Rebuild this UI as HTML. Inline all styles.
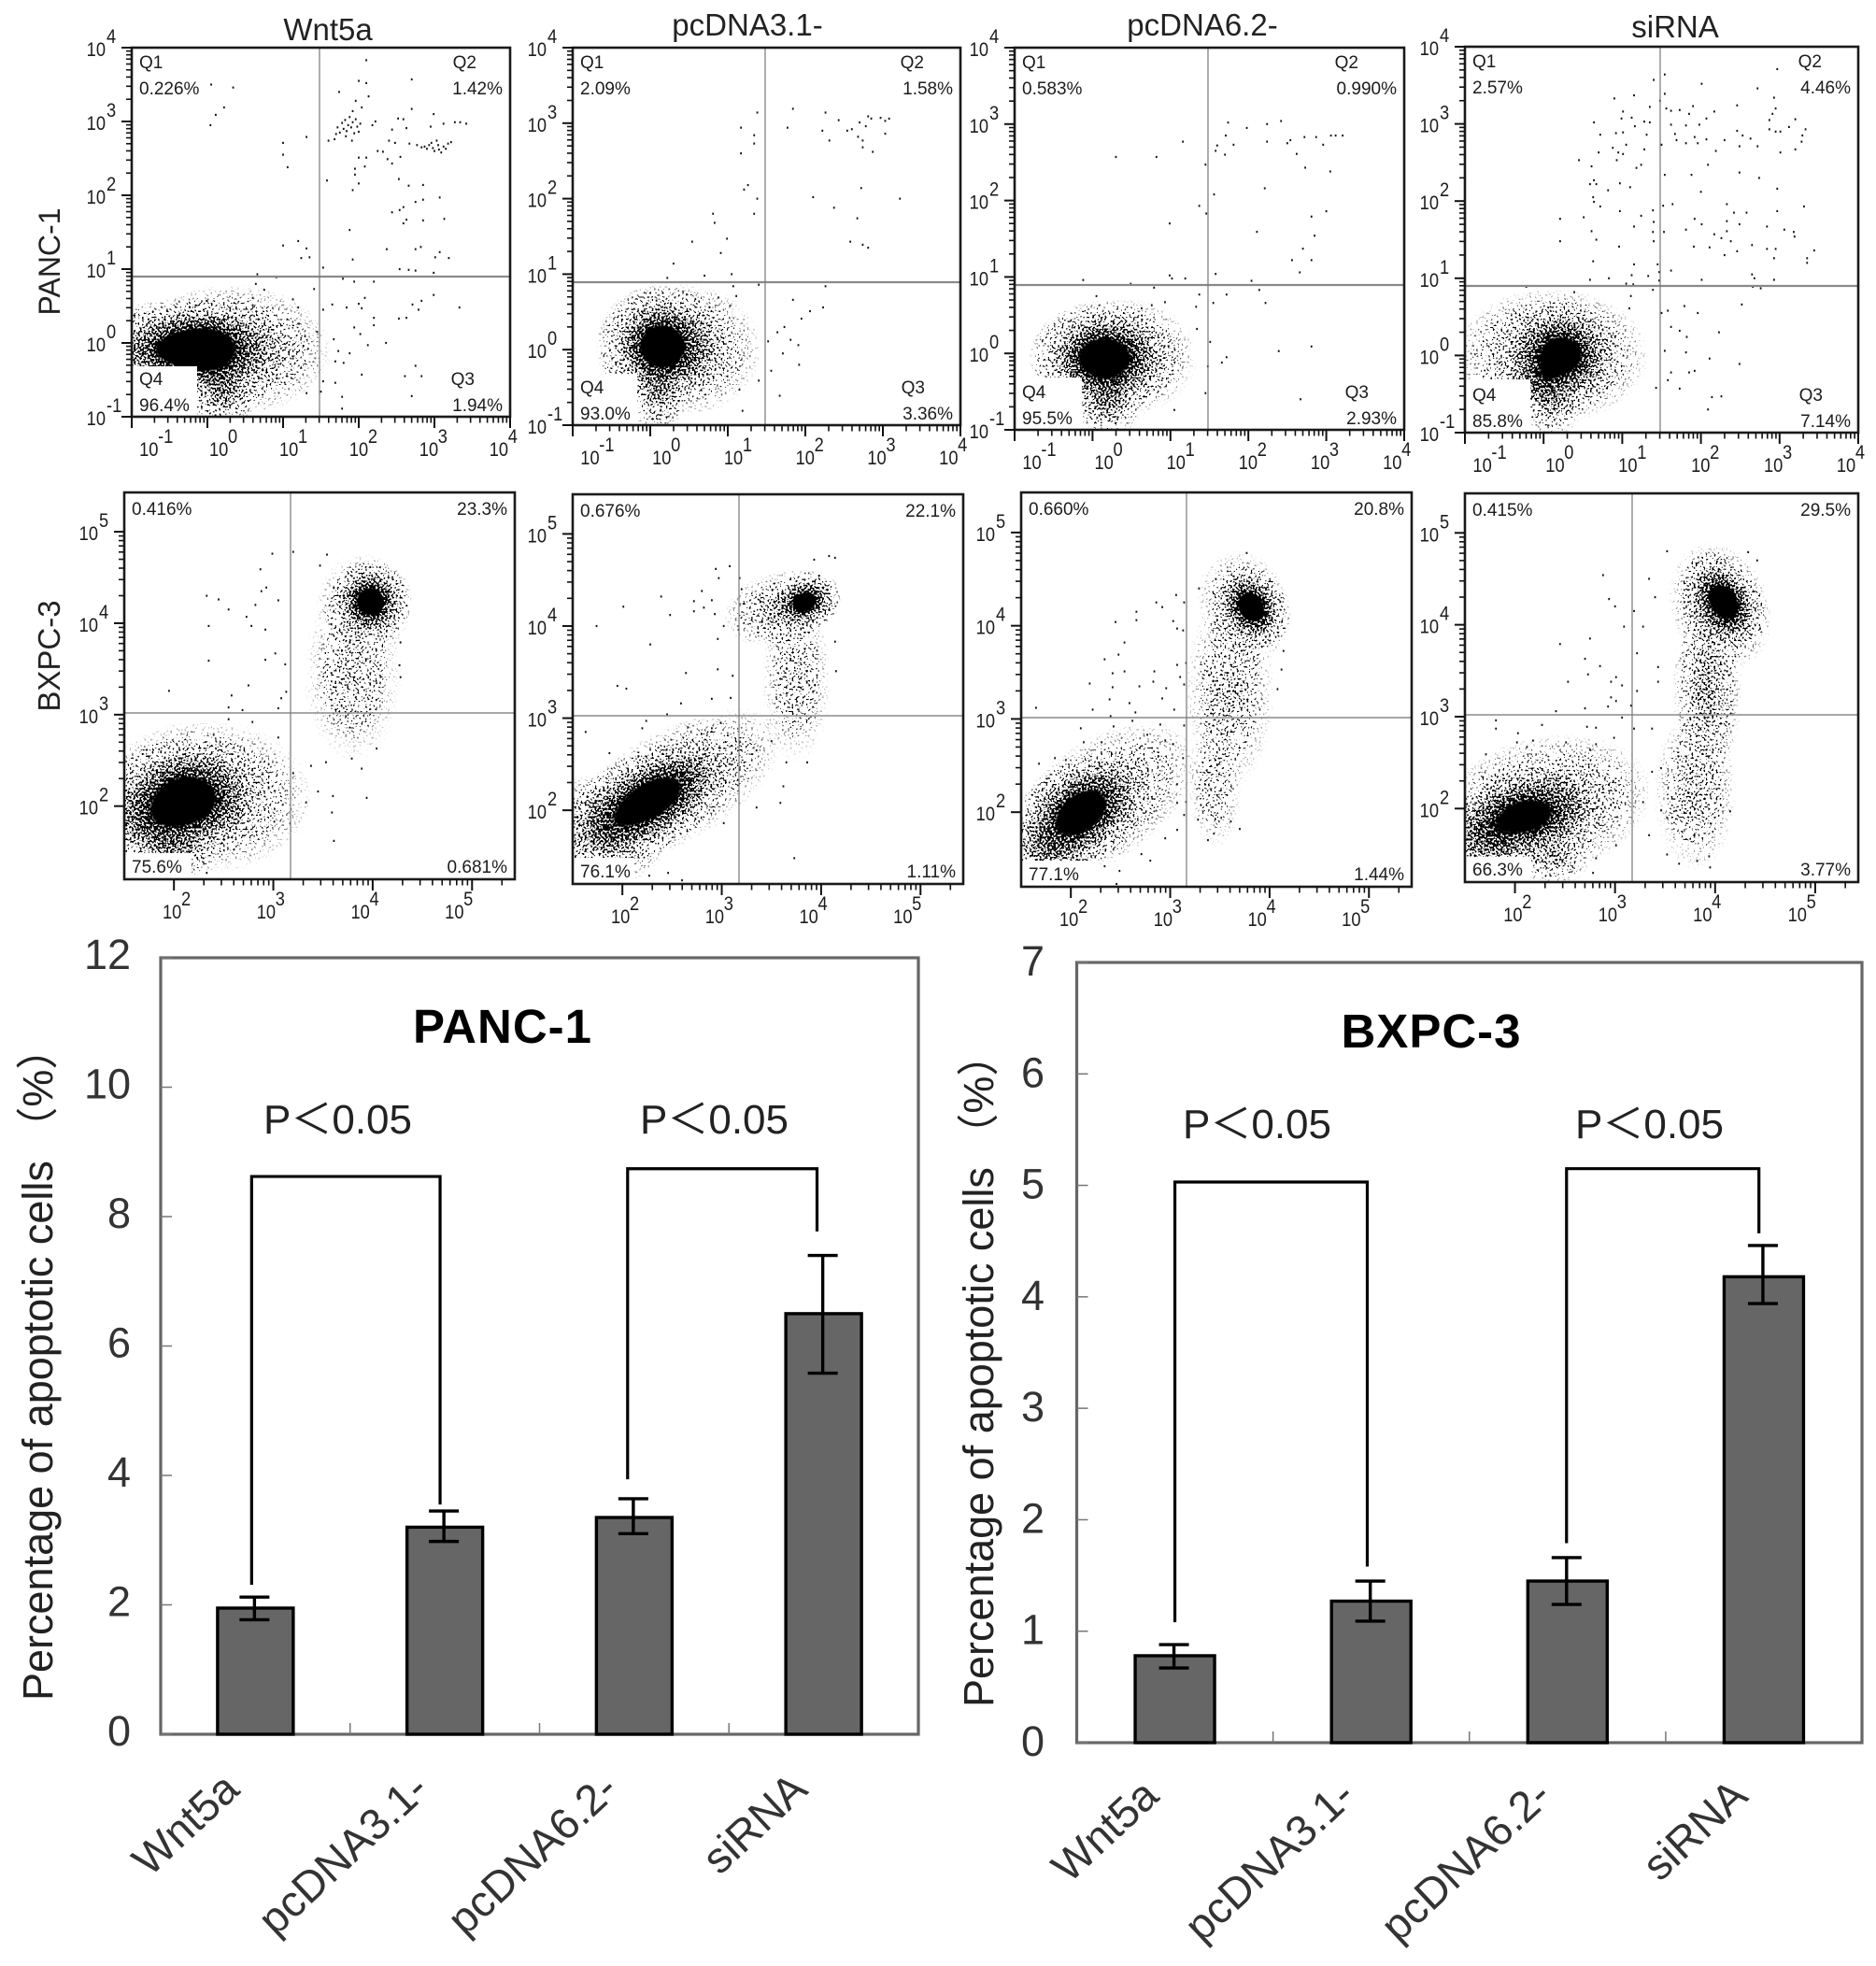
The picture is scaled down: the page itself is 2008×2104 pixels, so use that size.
<!DOCTYPE html>
<html lang="en">
<head>
<meta charset="utf-8">
<title>Apoptosis flow cytometry and bar charts</title>
<style>
html,body{margin:0;padding:0;background:#fff;}
svg{display:block;}
text{font-family:"Liberation Sans","Noto Sans CJK SC",sans-serif;}
</style>
</head>
<body>
<svg id="figure" xmlns="http://www.w3.org/2000/svg" width="2008" height="2104" viewBox="0 0 2008 2104">
<defs>
<radialGradient id="coreFade">
<stop offset="0" stop-color="#000" stop-opacity="1"/>
<stop offset="0.25" stop-color="#000" stop-opacity="0.78"/>
<stop offset="0.5" stop-color="#000" stop-opacity="0.38"/>
<stop offset="0.75" stop-color="#000" stop-opacity="0.1"/>
<stop offset="1" stop-color="#000" stop-opacity="0"/>
</radialGradient>
<filter id="stipple" color-interpolation-filters="sRGB">
<feTurbulence type="fractalNoise" baseFrequency="0.46" numOctaves="1" seed="7" result="grain"/>
<feColorMatrix in="grain" type="matrix" values="0 0 0 0 0  0 0 0 0 0  0 0 0 0 0  4.6 0 0 0 -1.95" result="grainAlpha"/>
<feComposite in="SourceAlpha" in2="grainAlpha" operator="arithmetic" k1="0" k2="1.25" k3="1" k4="-1"/>
<feComponentTransfer><feFuncA type="linear" slope="14"/></feComponentTransfer>
</filter>
</defs>
<rect x="0" y="0" width="2008" height="2104" fill="#fff"/>
<text x="351" y="43" font-size="33" text-anchor="middle" fill="#222">Wnt5a</text>
<text x="800" y="38" font-size="33" text-anchor="middle" fill="#222">pcDNA3.1-</text>
<text x="1287" y="38" font-size="33" text-anchor="middle" fill="#222">pcDNA6.2-</text>
<text x="1793" y="40" font-size="33" text-anchor="middle" fill="#222">siRNA</text>
<text transform="translate(64 280) rotate(-90)" font-size="32" text-anchor="middle" fill="#222">PANC-1</text>
<text transform="translate(64 702) rotate(-90)" font-size="33" text-anchor="middle" fill="#222">BXPC-3</text>
</svg>
<script>
/* ---------- Flow cytometry data: [log10 FITC, log10 PI] ---------- */
const rowOneXDecades = [-1, 0, 1, 2, 3, 4];
const rowOneYDecades = [-1, 0, 1, 2, 3, 4];
const rowTwoXDecades = [2, 3, 4, 5];
const rowTwoYDecades = [2, 3, 4, 5];

const pancWnt5aPercents = ["0.226%", "1.42%", "1.94%", "96.4%"];
const pancPcdna31Percents = ["2.09%", "1.58%", "3.36%", "93.0%"];
const pancPcdna62Percents = ["0.583%", "0.990%", "2.93%", "95.5%"];
const pancSirnaPercents = ["2.57%", "4.46%", "7.14%", "85.8%"];
const bxpcWnt5aPercents = ["0.416%", "23.3%", "0.681%", "75.6%"];
const bxpcPcdna31Percents = ["0.676%", "22.1%", "1.11%", "76.1%"];
const bxpcPcdna62Percents = ["0.660%", "20.8%", "1.44%", "77.1%"];
const bxpcSirnaPercents = ["0.415%", "29.5%", "3.77%", "66.3%"];

/* density regions: [log x, log y, spread x, spread y, tilt, density] */
const pancWnt5aDensity = [[.3,-.1,1.35,.9,0,.5],[-.3,-.08,1.45,.68,0,1],[-.15,-.1,.85,.6,0,1],[0,-.08,.6,.5,0,1],[.2,-.65,.45,.55,0,.5]];
const pancPcdna31Density = [[.45,0,1,.88,0,.42],[.14,.05,.85,.82,0,1],[.14,.05,.55,.55,0,1],[.1,-.55,.38,.6,0,.42]];
const pancPcdna62Density = [[.4,-.05,.95,.78,0,.42],[.13,-.06,.95,.75,0,1],[.13,-.06,.65,.52,0,1],[.2,-.6,.45,.55,0,.48]];
const pancSirnaDensity = [[.1,0,1.25,.88,0,.48],[.25,0,.8,.75,0,.9],[.2,0,.5,.5,0,.8],[0,-.3,.42,.42,0,.6],[.1,-.6,.45,.45,0,.38]];
const bxpcWnt5aDensity = [[2.3,2.1,1.1,.85,0,.42],[1.8,1.85,.7,.62,0,.6],[2.11,2.07,.85,.72,-10,1],[2.12,2.06,.55,.48,-10,1],[2,1.5,.45,.32,0,.38],[3.8,3.45,.5,.98,0,.2],[3.9,4.15,.48,.62,0,.28],[3.98,4.24,.42,.45,-35,1],[3.98,4.24,.27,.3,-35,.9]];
const bxpcPcdna31Density = [[2.5,2.25,1.25,.62,-30,.42],[1.85,1.8,.65,.62,0,.58],[2.27,2.11,.95,.55,-30,1],[2.27,2.1,.65,.36,-30,1],[3.75,3.45,.36,.95,0,.2],[3.6,4.2,.6,.4,-15,.38],[3.85,4.27,.36,.32,-20,1],[3.82,4.25,.25,.2,-20,.9]];
const bxpcPcdna62Density = [[2.3,2.12,1.1,.66,-35,.4],[1.8,1.65,.55,.5,0,.52],[2.1,2,.78,.56,-35,1],[2.1,2,.5,.38,-35,1],[3.6,3.3,.46,1.05,0,.23],[3.45,2.3,.28,.7,0,.18],[3.75,4.2,.46,.62,-20,.36],[3.82,4.2,.36,.48,-35,1],[3.82,4.2,.24,.32,-35,.9]];
const bxpcSirnaDensity = [[2.25,2,1.15,.78,-15,.45],[1.75,1.7,.6,.55,0,.62],[2.4,1.45,.36,.28,0,.32],[2.12,1.92,.85,.55,-10,.88],[2.1,1.92,.5,.35,-10,.7],[3.92,3.3,.35,1.02,0,.4],[3.8,2.2,.42,.88,0,.25],[4.05,4.2,.5,.72,-20,.42],[4.08,4.25,.38,.58,-30,1],[4.1,4.25,.24,.4,-35,.9]];

const pancWnt5aEvents = [[.05,3.5],[.34,3.46],[.22,3.19],[.11,3.09],[.04,2.95],[2.1,3.83],[2,3.55],[2.1,3.52],[2.7,3.57],[1.74,3.4],[2.13,3.34],[1.96,3.28],[2.04,3.19],[1.92,3.14],[2.7,3.17],[2.99,3.1],[1.72,2.92],[1.75,2.85],[1.78,2.98],[1.8,2.9],[1.82,3.02],[1.84,2.87],[1.86,2.95],[1.88,3.06],[1.9,2.92],[1.92,2.99],[1.94,2.84],[1.96,3.03],[1.98,2.93],[2,2.86],[1.83,2.8],[1.68,2.76],[1.7,2.83],[1.91,2.74],[2.02,2.97],[1.6,2.74],[2.22,3],[2.18,2.95],[2.52,3.04],[2.59,3.03],[2.44,2.89],[2.63,2.91],[2.95,2.93],[3.12,2.97],[3.27,2.99],[3.34,2.99],[3.42,2.97],[2.77,2.68],[2.83,2.65],[2.87,2.66],[2.9,2.63],[2.93,2.68],[2.96,2.71],[2.98,2.64],[3,2.6],[3.03,2.74],[3.06,2.62],[3.09,2.58],[3.12,2.66],[3.15,2.63],[3.18,2.7],[3.22,2.72],[3.05,2.68],[2.4,2.74],[2.48,2.71],[2.67,2.7],[2.25,2.6],[2.32,2.59],[2,2.51],[2.1,2.51],[2.38,2.49],[2.44,2.43],[2.55,2.52],[2.08,2.39],[1.95,2.36],[1.95,2.28],[2,2.16],[1.92,2.07],[2.53,2.22],[2.66,2.13],[2.85,2.14],[3.07,1.97],[2.85,1.94],[2.75,1.91],[2.59,1.84],[2.54,1.8],[2.44,1.77],[2.63,1.67],[2.59,1.62],[2.85,1.66],[3.13,1.68],[1.88,1.53],[2.82,1.3],[2.75,1.27],[2.37,1.27],[1.92,1.13],[3.01,1.16],[3.07,1.23],[3.19,1.15],[2.54,1],[2.66,.99],[2.75,.98],[2.99,.95],[1,2.71],[1,2.55],[1.06,2.38],[1.31,2.79],[1.58,2.2],[1.2,1.38],[1,1.32],[1.31,1.28],[1.24,1.15],[1.35,1.16],[1.53,1.02],[1.79,.87],[1.94,.83],[2.2,.83],[2.08,.61],[2,.53],[2.99,.65],[2.83,.57],[2.71,.52],[2.79,.45],[3.33,.48],[1.65,.52],[1.53,.45],[1.84,.48],[2.04,.47],[2.2,.34],[2.63,.34],[2.53,.33],[2.2,.24],[1.94,.21],[2.02,.12],[1.67,.05],[2.36,0],[2.12,-.03],[1.73,-.11],[1.88,-.14],[1.69,-.25],[1.8,-.27],[2.75,-.31],[2.04,-.43],[2.61,-.45],[2.83,-.45],[1.53,-.52],[1.69,-.54],[2.7,-.72],[1.31,-.68],[1.5,-.66],[1.78,-.73],[1.78,-.89],[.66,.93],[.91,.89],[.64,.8],[.75,.72],[.6,.61],[.6,.51],[-.01,.57],[-.78,.32],[1.13,.59],[1.41,.73],[1.2,.48],[1.21,.26],[1.45,.15],[1.29,.09],[1.13,-.21],[1.33,-.08]];

const pancPcdna31Events = [[1.38,3.14],[1.17,2.94],[1.34,2.84],[1.34,2.73],[1.17,2.6],[1.26,2.18],[1.21,2.12],[1.38,2],[1.34,1.8],[.81,1.8],[.83,1.68],[.54,1.43],[.99,1.47],[.91,1.28],[.3,1.14],[.7,.98],[.22,.95],[1.05,1],[1.07,.84],[1.4,.86],[1.84,3.19],[2.26,3.14],[2.43,3.04],[1.77,2.94],[2.22,2.9],[2.54,2.9],[2.6,2.92],[2.7,3.01],[2.81,3.09],[2.85,3.06],[2.78,2.96],[2.97,3.07],[3.03,3.03],[3.08,3.06],[3.03,2.86],[2.68,2.82],[2.74,2.77],[2.74,2.68],[2.87,2.62],[2.31,2.77],[2.72,2.14],[2.1,2.02],[3.22,2],[2.37,1.88],[2.67,1.74],[2.58,1.43],[2.74,1.39],[2.81,1.35],[2.26,.84],[1.84,.66],[2.23,.56],[2.06,.51],[1.95,.41],[1.73,.3],[1.64,.23],[1.52,.11],[1.81,.13],[1.91,.06],[1.71,-.05],[1.92,-.2],[1.56,-.28],[1.67,-.61],[1.4,-.41],[1.19,-.81],[1.15,-.53],[.47,.73],[.08,.65],[-.09,.58],[.88,.69],[1.11,.71],[1.03,.58]];

const pancPcdna62Events = [[.3,2.57],[.82,2.57],[1.16,2.77],[1.45,2.47],[1.37,1.93],[1.46,1.83],[.99,1.7],[1.56,2.08],[1.74,3.02],[2.24,3],[2.42,3.04],[1.98,2.95],[1.71,2.85],[1.6,2.72],[1.58,2.65],[1.7,2.6],[1.81,2.73],[2.24,2.77],[2.5,2.75],[2.54,2.79],[2.72,2.83],[2.87,2.83],[3.06,2.85],[3.12,2.85],[3.21,2.85],[2.96,2.73],[2.62,2.61],[2.73,2.43],[3.05,2.38],[2.21,2.16],[3,1.86],[2.81,1.79],[2.11,1.59],[2.85,1.54],[2.7,1.37],[2.56,1.22],[2.81,1.22],[2.66,1.06],[1.58,1.04],[-.12,.96],[.99,1.02],[1.02,.98],[1.19,.98],[.49,.91],[.79,.86],[.05,.75],[2.04,.95],[2.14,.83],[2.22,.66],[1.72,.77],[1.55,.66],[1.37,.77],[1.33,.61],[.93,.67],[.76,.63],[.63,.59],[-.26,.34],[1.51,.15],[1.34,.32],[2.39,.03],[2.81,.09],[1.72,-.05],[1.66,-.12],[1.48,-.17],[1.45,-.52],[2.67,-.6],[1.05,-.74]];

const pancSirnaEvents = [[2.97,3.71],[1.54,3.64],[1.4,3.57],[2.01,3.52],[2.72,3.46],[1.15,3.37],[2.93,3.34],[.9,3.33],[1.54,3.39],[1.48,3.3],[2.46,3.24],[2.95,3.2],[1.35,3.22],[1.56,3.2],[1.9,3.23],[1.01,3.16],[1.62,3.17],[1.73,3.18],[2.17,3.16],[2.91,3.13],[.99,3.07],[1.12,3.08],[1.28,3.03],[.64,3.02],[1.35,3.02],[1.85,3.13],[2.07,3.07],[2.87,3.05],[3.2,3.06],[1.62,2.99],[1.81,2.98],[1.98,2.99],[1.16,2.97],[3.12,2.96],[2.87,2.93],[2.95,2.9],[3.01,2.9],[2.46,2.91],[3.33,2.93],[.92,2.88],[.72,2.86],[1.01,2.89],[1.31,2.86],[1.67,2.87],[2.53,2.85],[2.63,2.81],[3.29,2.85],[1.92,2.83],[2.07,2.8],[2.3,2.79],[1.69,2.79],[3.28,2.77],[1.05,2.73],[1.5,2.73],[1.81,2.75],[1.96,2.75],[2.49,2.71],[2.72,2.71],[.88,2.69],[1.28,2.67],[3.2,2.67],[2.19,2.65],[.95,2.63],[.7,2.63],[1.01,2.61],[3.01,2.63],[.93,2.53],[.45,2.53],[1.24,2.47],[.61,2.45],[1.18,2.43],[2.09,2.47],[2.49,2.37],[1.54,2.34],[1.88,2.34],[2.74,2.3],[.64,2.27],[.59,2.22],[.67,2.22],[.97,2.23],[1.1,2.18],[.82,2.14],[2,2.12],[2.97,2.16],[.63,2.05],[.64,1.99],[.72,1.93],[1.52,1.94],[1.64,1.96],[2.33,1.96],[3.31,1.93],[.97,1.87],[1.39,1.88],[2.97,1.87],[2.42,1.85],[2.58,1.85],[1.24,1.81],[.21,1.77],[.51,1.79],[1.92,1.77],[2.33,1.74],[1.4,1.73],[1.15,1.67],[2.01,1.7],[2.49,1.7],[2.84,1.67],[3.06,1.63],[.61,1.61],[1.39,1.6],[1.53,1.6],[1.81,1.63],[2.33,1.61],[3.18,1.6],[2.17,1.57],[3.19,1.54],[.67,1.5],[.21,1.48],[1.4,1.48],[2.26,1.52],[2.38,1.48],[1.91,1.41],[2.11,1.4],[2.65,1.43],[.96,1.41],[2.46,1.35],[2.84,1.38],[2.95,1.38],[3.44,1.36],[2.3,1.3],[2.93,1.26],[3.35,1.26],[3.35,1.2],[.63,1.22],[1.15,1.18],[1.45,1.18],[1.62,1.1],[2.65,1.05],[2.68,1],[1.12,1.04],[1.33,1.03],[1.47,1.08],[.59,.98],[.83,1],[2.01,.98],[2.93,.98],[1.05,.93],[1.14,.92],[1.47,.97],[2.66,.89],[2.76,.87],[-.22,.89],[1.39,.85],[.39,.82],[1.11,.77],[2.52,.66],[1.79,.64],[1.09,.61],[1.96,.55],[1.5,.55],[1.58,.58],[1.62,.37],[1.73,.32],[2.23,.3],[1.82,.24],[1.81,.04],[1.54,.06],[2.11,-.04],[2.49,-.11],[1.92,-.2],[1.85,-.22],[1.62,-.22],[1.58,-.32],[1.43,-.42],[1.73,-.43],[2.14,-.54],[2.26,-.53],[2.09,-.7]];

const bxpcWnt5aEvents = [[2.99,4.76],[3.2,4.78],[3.54,4.75],[3.47,4.63],[2.87,4.59],[2.33,4.3],[2.45,4.26],[2.55,4.15],[2.93,4.39],[2.88,4.35],[2.82,4.2],[3.05,4.25],[2.73,4.07],[2.78,3.97],[2.35,3.97],[2.92,3.93],[3.02,3.67],[2.92,3.6],[2.35,3.59],[3.12,3.55],[1.95,3.26],[2.75,3.32],[2.58,3.21],[3.13,3.25],[3.08,3.18],[3.05,3.07],[2.55,3.08],[2.69,3.05],[2.55,2.95],[2.79,2.92],[2.4,2.78],[3.05,2.75],[3.53,2.48],[3.38,2.44],[3.79,2.52],[3.89,2.41],[4.04,2.63],[3.2,2.36],[3.45,2.16],[3.6,2.11],[3.94,2.09],[3.33,2.04],[3.59,1.93],[3.61,1.62],[3.17,1.81],[3.01,1.83],[2.17,1.31],[2.33,1.27],[4.28,3.79],[4.27,3.54],[4.28,3.41]];

const bxpcPcdna31Events = [[1.74,4],[2.01,4.21],[2.39,4.32],[2.48,4.12],[2.28,3.8],[2.64,3.49],[2.96,3.53],[3.11,3.46],[1.95,3.35],[2.04,3.32],[2.9,3.21],[2.59,3.16],[3.09,3.22],[2.94,4.62],[3.08,4.65],[2.97,4.52],[3.18,4.52],[2.8,4.38],[2.72,4.27],[2.9,4.28],[2.82,4.2],[2.93,4.13],[2.72,4.16],[2.96,3.86],[3.02,4],[3.17,3.96],[3.2,4.4],[3.93,4.72],[4.08,4.76],[4.14,4.74],[4.14,3.83],[4.15,3.51],[2.45,3.04],[1.63,2.85],[2.24,2.97],[2.2,2.89],[1.87,2.62],[2.66,2.9],[2.9,2.89],[2.99,2.95],[3.62,2.26],[3.59,2.08],[3.73,1.48],[3.35,2.03],[3.86,2.52],[3.65,2.52],[3.5,2.75],[3.35,2.65],[3.02,1.86],[2.46,1.32],[2.6,1.24],[2.27,1.29]];

const bxpcPcdna62Events = [[3.77,4.78],[2.45,4.04],[2.66,4.15],[2.66,4.06],[2.86,4.25],[2.92,4.2],[3.06,4.33],[3.14,4.25],[3.03,4.05],[3.07,3.97],[3.13,3.95],[3.46,4.5],[3.29,4.4],[3.64,4.53],[2.54,3.82],[2.48,3.69],[2.34,3.64],[2.42,3.49],[2.54,3.51],[2.84,3.51],[2.19,3.38],[2.83,3.4],[2.69,3.35],[2.42,3.34],[2.96,3.33],[3.07,3.58],[3.1,3.45],[3.16,3.6],[3.14,3.37],[1.65,3.12],[2.22,3.1],[2.39,3.21],[2.59,3.17],[2.65,3.07],[2.92,3.22],[3.04,3.1],[2.62,2.98],[2.4,3.03],[2.1,2.9],[2.43,2.92],[2.77,2.83],[2.9,2.94],[2.13,2.75],[2.31,2.75],[2.95,2.77],[3.03,2.73],[3.14,2.93],[4.14,3.73],[4.12,3.53],[4.08,3.32],[1.68,2.52],[1.84,2.58],[1.95,2.56],[3.13,2.58],[3.07,2.3],[3.07,2.1],[3.16,2.11],[3.14,1.97],[3.07,1.81],[3.28,1.92],[3.44,1.77],[3.38,1.7],[3.7,1.82],[3.61,1.9],[2.95,1.72],[2.8,1.48],[2.71,1.55],[2.34,1.42],[2.49,1.37],[2.28,1.23],[2.46,1.23]];

const bxpcSirnaEvents = [[3.52,4.8],[4.33,4.79],[4.42,4.7],[4.02,4.69],[2.88,4.54],[2.94,4.28],[3,4.2],[3.09,3.98],[2.75,3.85],[2.45,3.79],[2.7,3.63],[2.85,3.55],[2.73,3.46],[2.53,3.38],[2.96,3.38],[3.01,3.43],[2.96,3.21],[3.01,3.17],[2.93,3.11],[2.7,3.09],[2.41,3.06],[3.07,3.34],[3.16,3.12],[1.81,2.96],[1.81,2.87],[2.27,2.91],[2.03,2.82],[2.72,2.89],[2.81,2.88],[3.07,2.99],[2.02,2.72],[2.12,2.67],[2.18,2.74],[2.51,2.72],[2.99,2.77],[2.81,2.7],[2.75,2.64],[1.71,2.59],[2.03,2.41],[1.68,2.34],[4.45,3.96],[3.34,4.5],[3.19,4.15],[3.4,4.3],[3.28,3.98],[3.22,3.69],[3.43,3.54],[3.22,3.28],[3.43,3.38],[3.37,2.87],[3.19,2.87],[3.37,2.4],[3.46,2.44],[3.28,2.07],[3.52,1.9],[3.46,1.98],[3.34,1.71],[3.52,1.5],[3.64,1.4],[3.82,1.43],[3.95,1.36],[3.94,1.48],[4.15,1.97],[3.01,1.6],[2.81,1.46],[2.78,1.3]];

/* ---------- Bar chart data ---------- */
const barCategories = ["Wnt5a", "pcDNA3.1-", "pcDNA6.2-", "siRNA"];
const pancTickLabels = [0, 2, 4, 6, 8, 10, 12];
const pancMeans = [1.95, 3.2, 3.35, 6.5];
const pancUpper = [2.12, 3.45, 3.64, 7.4];
const pancLower = [1.77, 2.98, 3.1, 5.58];
const pancBracketSpans = [[-.02, .975], [1.965, 2.965]];
const pancBracketLevels = [[2.31, 8.62, 3.55], [3.94, 8.74, 7.77]];
const bxpcTickLabels = [0, 1, 2, 3, 4, 5, 6, 7];
const bxpcMeans = [.78, 1.27, 1.45, 4.18];
const bxpcUpper = [.88, 1.45, 1.66, 4.46];
const bxpcLower = [.67, 1.09, 1.24, 3.94];
const bxpcBracketSpans = [[0, .98], [1.995, 2.975]];
const bxpcBracketLevels = [[1.08, 5.03, 1.58], [1.79, 5.15, 4.57]];

/* ---------- Helpers ---------- */
const NS = "http://www.w3.org/2000/svg";
const figure = document.getElementById("figure");
function make(tag, parent, props) {
  const el = document.createElementNS(NS, tag);
  for (const key in props) el.setAttribute(key, props[key]);
  parent.appendChild(el);
  return el;
}
function linear(d0, d1, r0, r1) {
  return v => r0 + (v - d0) * (r1 - r0) / (d1 - d0);
}
function narrow(x, y) {
  return "translate(" + x + " " + y + ") scale(.87 1)";
}

/* ---------- Flow panels ---------- */
function drawFlowPanel(cfg) {
  const panel = make("g", figure, {});
  
  
  const L = cfg.left, R = cfg.right, T = cfg.top, B = cfg.bottom;
  const sx = linear(cfg.xDomain[0], cfg.xDomain[1], L, R);
  const sy = linear(cfg.yDomain[0], cfg.yDomain[1], B, T);

  const clip = make("clipPath", panel, { id: cfg.name + "-clip" });
  make("rect", clip, { x: L, y: T, width: R - L, height: B - T });
  const plot = make("g", panel, { "clip-path": "url(#" + cfg.name + "-clip)" });
  
  

  const density = make("g", plot, { filter: "url(#stipple)" });
  
  
  cfg.density.forEach(d => {
    const cx = sx(d[0]), cy = sy(d[1]);
    const e = make("ellipse", density, {
      cx: cx, cy: cy,
      rx: Math.abs(sx(d[0] + d[2]) - cx),
      ry: Math.abs(sy(d[1] + d[3]) - cy),
      transform: "rotate(" + d[4] + " " + cx + " " + cy + ")",
      fill: "url(#coreFade)",
      "fill-opacity": d[5]
    });
    
    
  });

  const dots = make("g", plot, { fill: "#111" });
  
  
  cfg.events.forEach(p => {
    const dot = make("rect", dots, { x: sx(p[0]) - .9, y: sy(p[1]) - 1.1, width: 1.8, height: 2.2 });
    
    
  });

  const box = make("rect", plot, { x: L, y: B - cfg.labelBox[1], width: cfg.labelBox[0], height: cfg.labelBox[1], fill: "#fff" });
  
  

  const gateH = make("line", panel, { x1: L, x2: R, y1: cfg.gateY, y2: cfg.gateY, stroke: "#8a8a8a", "stroke-width": cfg.gateHW });
  
  
  const gateV = make("line", panel, { x1: cfg.gateX, x2: cfg.gateX, y1: T, y2: B, stroke: "#777", "stroke-width": 1.2 });
  
  
  const frame = make("rect", panel, { x: L, y: T, width: R - L, height: B - T, fill: "none", stroke: "#1a1a1a", "stroke-width": 2.6 });
  
  

  /* ticks */
  const axis = make("g", panel, { stroke: "#111" });
  
  
  cfg.xDecades.forEach(d => {
    const t = make("line", axis, { x1: sx(d), x2: sx(d), y1: B, y2: B + 12, "stroke-width": 2 });
    
    
    for (let m = 2; m < 10; m++) {
      const v = d + Math.log10(m);
      if (v > cfg.xDomain[1]) continue;
      const mt = make("line", axis, { x1: sx(v), x2: sx(v), y1: B, y2: B + 6.5, "stroke-width": 1.6 });
      
      
    }
  });
  cfg.yDecades.forEach(d => {
    const t = make("line", axis, { x1: L - 11, x2: L, y1: sy(d), y2: sy(d), "stroke-width": 2 });
    
    
    if (d >= cfg.yDecades[cfg.yDecades.length - 1]) return;
    for (let m = 2; m < 10; m++) {
      const v = d + Math.log10(m);
      const mt = make("line", axis, { x1: L - 6, x2: L, y1: sy(v), y2: sy(v), "stroke-width": 1.6 });
      
      
    }
  });

  /* tick labels */
  const w = R - L;
  const labels = make("g", panel, { fill: "#1c1c1c", "font-size": 21 });
  
  
  cfg.xDecades.forEach((d, i) => {
    const x0 = L + w * cfg.xLabelStart + i * w * cfg.xLabelStep;
    const base = make("text", labels, { transform: narrow(x0, B + 42) });
    base.textContent = "10";
    
    
    const sup = make("text", labels, { transform: narrow(x0 + 20, B + 28) });
    sup.textContent = String(d);
    
    
  });
  cfg.yDecades.forEach(d => {
    const y = sy(d);
    const base = make("text", labels, { transform: narrow(L - 28, y + 9), "text-anchor": "end" });
    base.textContent = "10";
    
    
    const sup = make("text", labels, { transform: narrow(L - 27, y - 5) });
    sup.textContent = String(d);
    
    
  });

  /* quadrant labels */
  const quad = make("g", panel, { fill: "#1c1c1c", "font-size": 19 });
  
  
  const rows = cfg.quadNames ? [
    [L + 8, T + 22, "Q1", "start"], [R - cfg.q2Inset, T + 22, "Q2", "end"],
    [R - 38, B - 34, "Q3", "end"], [L + 8, B - 34, "Q4", "start"]
  ] : [];
  rows.forEach(r => {
    const q = make("text", quad, { x: r[0], y: r[1], "text-anchor": r[3] });
    q.textContent = r[2];
    
    
  });
  const topY = cfg.quadNames ? T + 50 : T + 24;
  const botY = cfg.quadNames ? B - 6 : B - 7;
  const spots = [[L + 8, topY, "start"], [R - 8, topY, "end"], [R - 8, botY, "end"], [L + 8, botY, "start"]];
  cfg.percents.forEach((txt, i) => {
    const t = make("text", quad, { x: spots[i][0], y: spots[i][1], "text-anchor": spots[i][2] });
    t.textContent = txt;
    
    
  });
}

const rowOne = { xDomain: [-1, 4], yDomain: [-1, 4], xDecades: rowOneXDecades, yDecades: rowOneYDecades, xLabelStart: .02, xLabelStep: .185, quadNames: true, gateHW: 2.2 };
const rowTwo = { xDomain: [1.5, 5.43], yDomain: [1.2, 5.43], xDecades: rowTwoXDecades, yDecades: rowTwoYDecades, xLabelStart: .098, xLabelStep: .241, quadNames: false, gateHW: 1.5 };
[
  { ...rowOne, name: "panc1-wnt5a-panel", left: 141, right: 546, top: 51, bottom: 446, gateX: 342, gateY: 296, labelBox: [70, 54], q2Inset: 36, events: pancWnt5aEvents, density: pancWnt5aDensity, percents: pancWnt5aPercents },
  { ...rowOne, name: "panc1-pcdna31-panel", left: 613, right: 1028, top: 51, bottom: 455, gateX: 819, gateY: 302, labelBox: [69, 55], q2Inset: 39, events: pancPcdna31Events, density: pancPcdna31Density, percents: pancPcdna31Percents },
  { ...rowOne, name: "panc1-pcdna62-panel", left: 1086, right: 1503, top: 51, bottom: 460, gateX: 1293, gateY: 305, labelBox: [72, 56], q2Inset: 49, events: pancPcdna62Events, density: pancPcdna62Density, percents: pancPcdna62Percents },
  { ...rowOne, name: "panc1-sirna-panel", left: 1568, right: 1989, top: 50, bottom: 463, gateX: 1777, gateY: 306, labelBox: [70, 57], q2Inset: 39, events: pancSirnaEvents, density: pancSirnaDensity, percents: pancSirnaPercents },
  { ...rowTwo, name: "bxpc3-wnt5a-panel", left: 133, right: 551, top: 527, bottom: 941, gateX: 311, gateY: 763, labelBox: [72, 28], events: bxpcWnt5aEvents, density: bxpcWnt5aDensity, percents: bxpcWnt5aPercents },
  { ...rowTwo, name: "bxpc3-pcdna31-panel", left: 613, right: 1031, top: 529, bottom: 946, gateX: 791, gateY: 766, labelBox: [66, 28], events: bxpcPcdna31Events, density: bxpcPcdna31Density, percents: bxpcPcdna31Percents },
  { ...rowTwo, name: "bxpc3-pcdna62-panel", left: 1093, right: 1511, top: 527, bottom: 949, gateX: 1270, gateY: 768, labelBox: [84, 28], events: bxpcPcdna62Events, density: bxpcPcdna62Density, percents: bxpcPcdna62Percents },
  { ...rowTwo, name: "bxpc3-sirna-panel", left: 1568, right: 1989, top: 528, bottom: 944, gateX: 1747, gateY: 765, labelBox: [70, 27], events: bxpcSirnaEvents, density: bxpcSirnaDensity, percents: bxpcSirnaPercents }
].forEach(drawFlowPanel);

/* ---------- Bar charts ---------- */
function drawBarChart(cfg) {
  const chart = make("g", figure, {});
  
  
  const L = cfg.left, R = cfg.right, T = cfg.top, B = cfg.bottom;
  const maxTick = cfg.ticks[cfg.ticks.length - 1];
  const sy = linear(0, maxTick, B, T);
  const band = (R - L) / cfg.categories.length;
  const sx = i => L + band * (i + .5);

  const frame = make("rect", chart, { x: L, y: T, width: R - L, height: B - T, fill: "#fff", stroke: "#666", "stroke-width": 3.2 });
  
  

  cfg.ticks.forEach(v => {
    const t = make("line", chart, { x1: L, x2: L + 12, y1: sy(v), y2: sy(v), stroke: "#777", "stroke-width": 1.5 });
    
    
    const lab = make("text", chart, { x: cfg.tickRight, y: sy(v) + cfg.tickDy, "text-anchor": "end", "font-size": 45, fill: "#333" });
    lab.textContent = String(v);
    
    
  });
  cfg.categories.forEach((c, i) => {
    if (i > 0) {
      const t = make("line", chart, { x1: L + band * i, x2: L + band * i, y1: B, y2: B - 12, stroke: "#777", "stroke-width": 1.5 });
      
      
    }
    const lab = make("text", chart, {
      transform: "translate(" + (sx(i) - 15) + " " + cfg.catY + ") rotate(-43)",
      "text-anchor": "end", "font-size": 46.5, fill: "#333"
    });
    lab.textContent = c;
    
    
  });

  cfg.means.forEach((v, i) => {
    const bar = make("rect", chart, { x: sx(i) - cfg.barW / 2, y: sy(v), width: cfg.barW, height: B - sy(v), fill: "#666", stroke: "#000", "stroke-width": 3.4 });
    
    
    const xe = sx(i) - 1;
    const err = make("path", chart, {
      d: "M" + (xe - 16) + " " + sy(cfg.upper[i]) + "H" + (xe + 16) + "M" + xe + " " + sy(cfg.upper[i]) + "V" + sy(cfg.lower[i]) + "M" + (xe - 16) + " " + sy(cfg.lower[i]) + "H" + (xe + 16),
      fill: "none", stroke: "#000", "stroke-width": 3.4
    });
    
    
  });

  cfg.spans.forEach((s, i) => {
    const lv = cfg.levels[i];
    const br = make("path", chart, {
      d: "M" + sx(s[0]) + " " + sy(lv[0]) + "V" + sy(lv[1]) + "H" + sx(s[1]) + "V" + sy(lv[2]),
      fill: "none", stroke: "#000", "stroke-width": 3.2
    });
    
    
    const p = make("text", chart, { x: cfg.pX[i], y: cfg.pY, "font-size": 44, fill: "#222" });
    p.textContent = "P\uFF1C0.05";
    
    
  });

  const title = make("text", chart, { x: cfg.titleX, y: cfg.titleY, "text-anchor": "middle", "font-size": 51, "font-weight": "bold", fill: "#000", "letter-spacing": 1 });
  title.textContent = cfg.title;
  
  

  const yTitle = make("text", chart, {
    transform: "translate(" + cfg.yTitleX + " " + cfg.yTitleY + ") rotate(-90)",
    "font-size": 45, fill: "#222"
  });
  yTitle.textContent = "Percentage of apoptotic cells \uFF08%\uFF09";
  
  
}

drawBarChart({ name: "panc1-bar-chart", title: "PANC-1", left: 172, right: 983, top: 1025, bottom: 1856, barW: 81, categories: barCategories, ticks: pancTickLabels, means: pancMeans, upper: pancUpper, lower: pancLower, spans: pancBracketSpans, levels: pancBracketLevels, tickRight: 140, tickDy: 12, catY: 1918, pX: [282, 685], pY: 1213, titleX: 538, titleY: 1116, yTitleX: 56, yTitleY: 1820 });
drawBarChart({ name: "bxpc3-bar-chart", title: "BXPC-3", left: 1152.5, right: 1993, top: 1030, bottom: 1865, barW: 85, categories: barCategories, ticks: bxpcTickLabels, means: bxpcMeans, upper: bxpcUpper, lower: bxpcLower, spans: bxpcBracketSpans, levels: bxpcBracketLevels, tickRight: 1118, tickDy: 14, catY: 1925, pX: [1266, 1686], pY: 1218, titleX: 1532, titleY: 1121, yTitleX: 1063, yTitleY: 1827 });
</script>
</body>
</html>
